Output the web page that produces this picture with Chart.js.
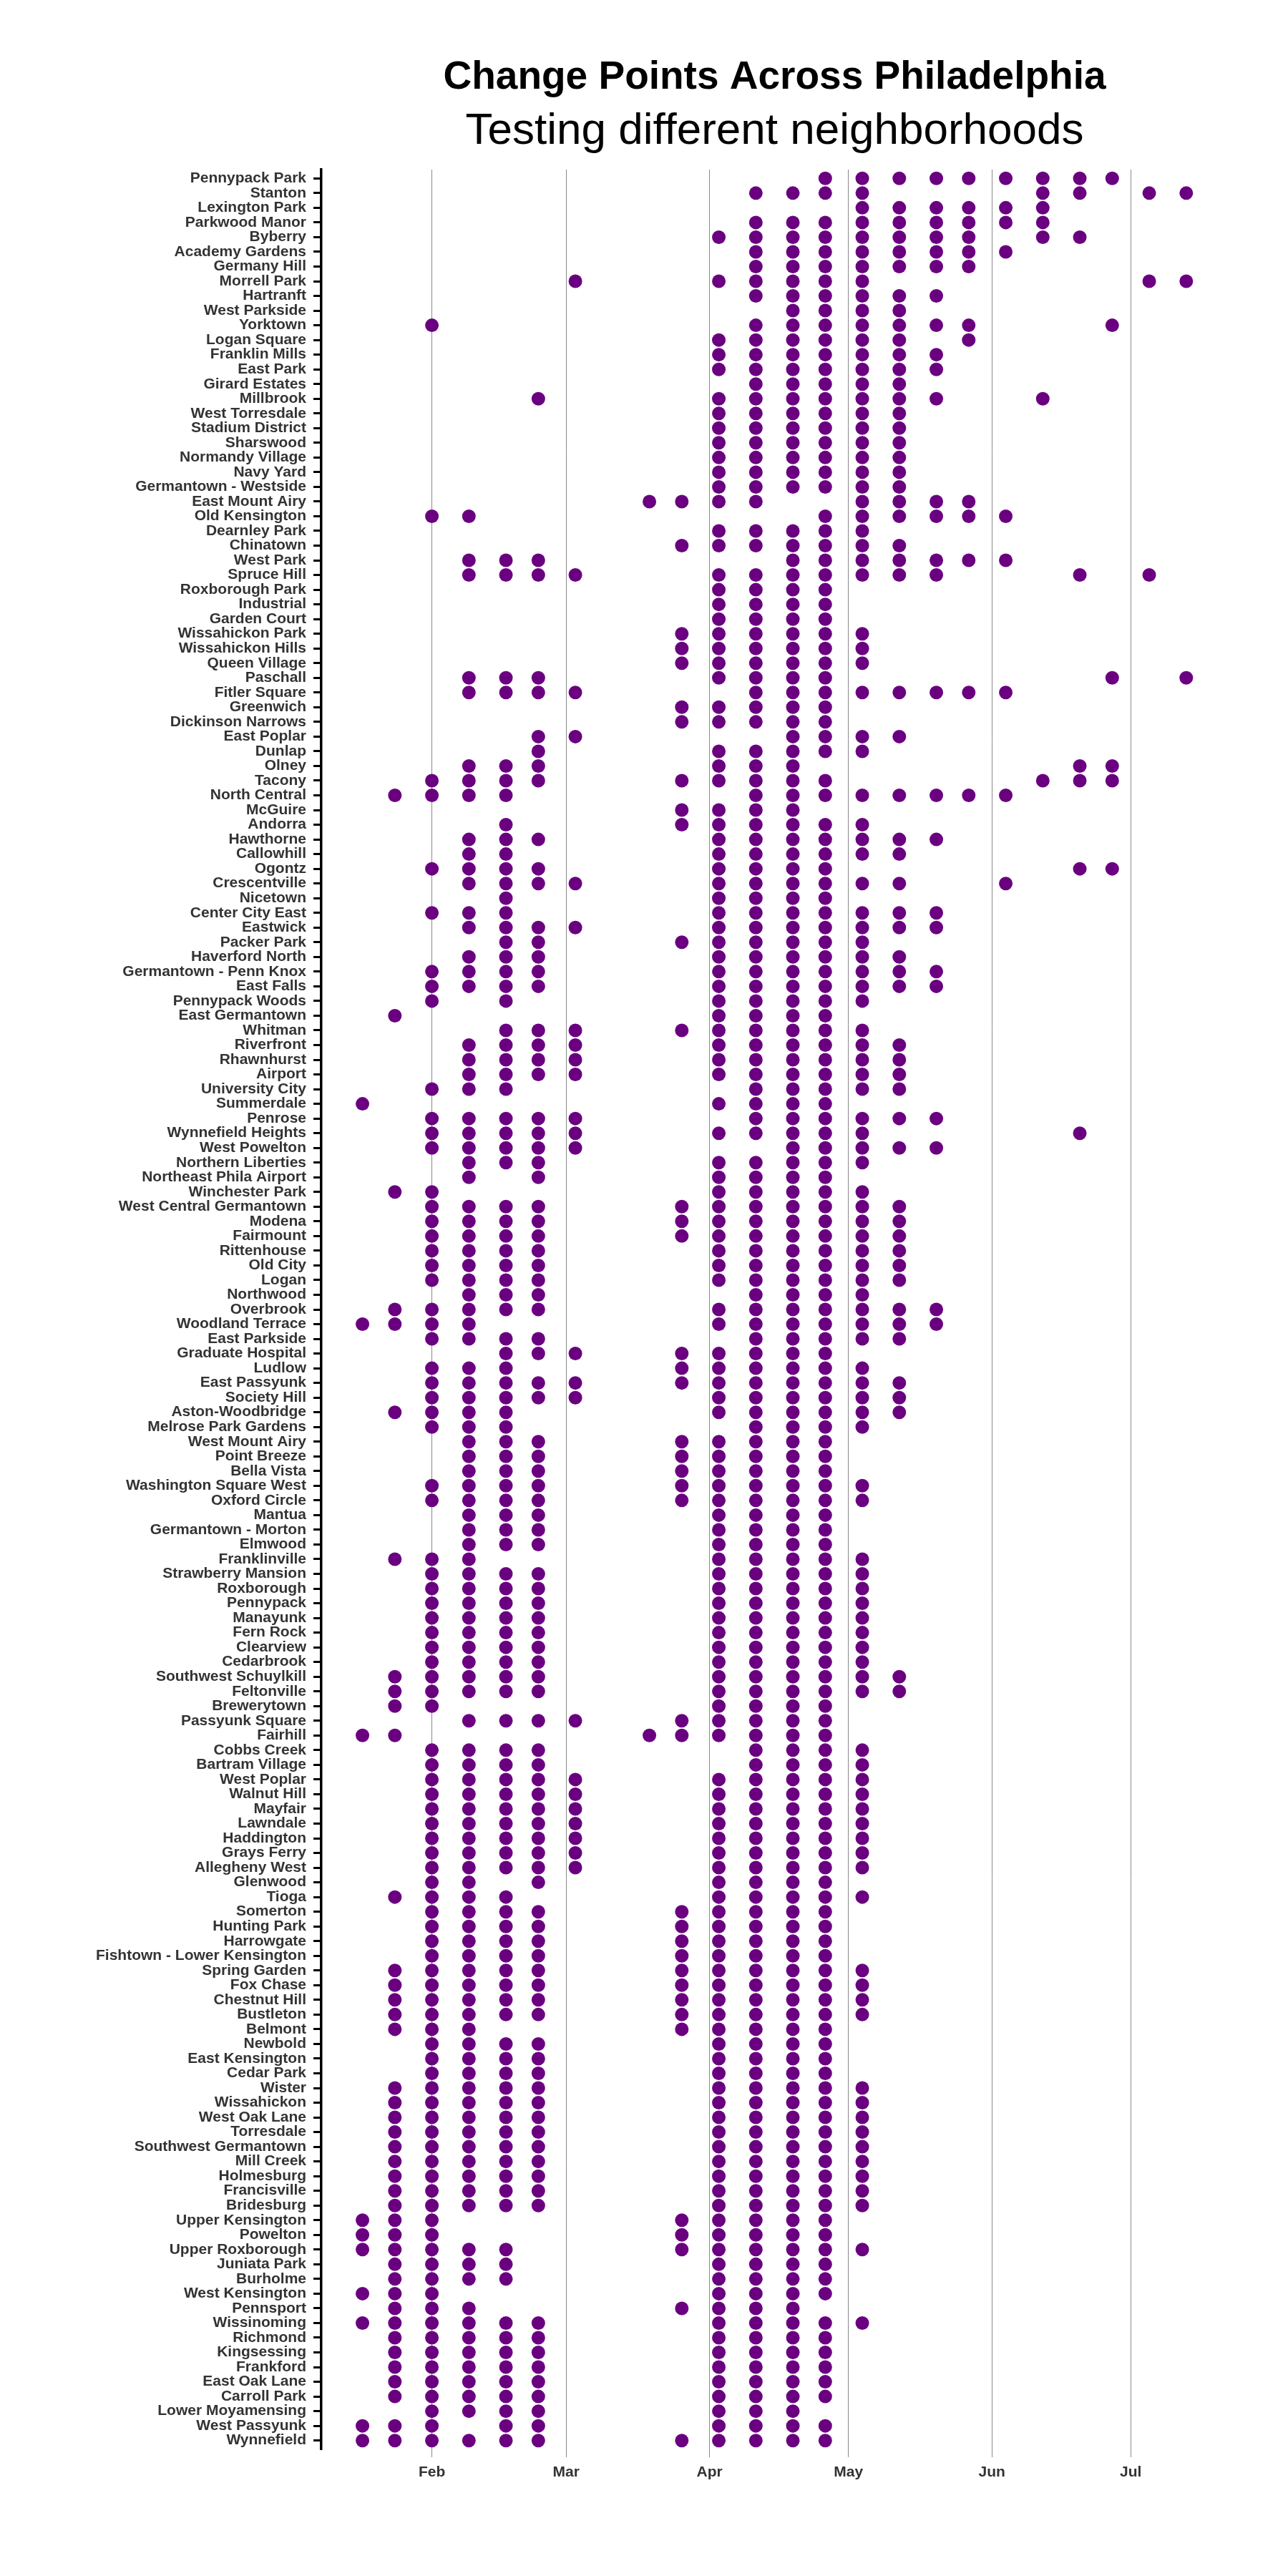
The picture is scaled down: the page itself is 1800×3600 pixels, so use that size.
<!DOCTYPE html>
<html>
<head>
<meta charset="utf-8">
<title>Change Points Across Philadelphia</title>
<script src="https://cdn.jsdelivr.net/npm/chart.js@4.4.1/dist/chart.umd.min.js"></script>
<style>
  html, body { margin: 0; padding: 0; background: #fff; }
  #wrap { width: 1800px; height: 3600px; }
</style>
</head>
<body>
<div id="wrap"><canvas id="changeChart" width="1800" height="3600"></canvas></div>
<script>
// neighborhoods, top to bottom
const NEIGHBORHOODS = [
  'Pennypack Park','Stanton','Lexington Park','Parkwood Manor','Byberry','Academy Gardens','Germany Hill',
  'Morrell Park','Hartranft','West Parkside','Yorktown','Logan Square','Franklin Mills','East Park',
  'Girard Estates','Millbrook','West Torresdale','Stadium District','Sharswood','Normandy Village','Navy Yard',
  'Germantown - Westside','East Mount Airy','Old Kensington','Dearnley Park','Chinatown','West Park','Spruce Hill',
  'Roxborough Park','Industrial','Garden Court','Wissahickon Park','Wissahickon Hills','Queen Village','Paschall',
  'Fitler Square','Greenwich','Dickinson Narrows','East Poplar','Dunlap','Olney','Tacony',
  'North Central','McGuire','Andorra','Hawthorne','Callowhill','Ogontz','Crescentville',
  'Nicetown','Center City East','Eastwick','Packer Park','Haverford North','Germantown - Penn Knox','East Falls',
  'Pennypack Woods','East Germantown','Whitman','Riverfront','Rhawnhurst','Airport','University City',
  'Summerdale','Penrose','Wynnefield Heights','West Powelton','Northern Liberties','Northeast Phila Airport','Winchester Park',
  'West Central Germantown','Modena','Fairmount','Rittenhouse','Old City','Logan','Northwood',
  'Overbrook','Woodland Terrace','East Parkside','Graduate Hospital','Ludlow','East Passyunk','Society Hill',
  'Aston-Woodbridge','Melrose Park Gardens','West Mount Airy','Point Breeze','Bella Vista','Washington Square West','Oxford Circle',
  'Mantua','Germantown - Morton','Elmwood','Franklinville','Strawberry Mansion','Roxborough','Pennypack',
  'Manayunk','Fern Rock','Clearview','Cedarbrook','Southwest Schuylkill','Feltonville','Brewerytown',
  'Passyunk Square','Fairhill','Cobbs Creek','Bartram Village','West Poplar','Walnut Hill','Mayfair',
  'Lawndale','Haddington','Grays Ferry','Allegheny West','Glenwood','Tioga','Somerton',
  'Hunting Park','Harrowgate','Fishtown - Lower Kensington','Spring Garden','Fox Chase','Chestnut Hill','Bustleton',
  'Belmont','Newbold','East Kensington','Cedar Park','Wister','Wissahickon','West Oak Lane',
  'Torresdale','Southwest Germantown','Mill Creek','Holmesburg','Francisville','Bridesburg','Upper Kensington',
  'Powelton','Upper Roxborough','Juniata Park','Burholme','West Kensington','Pennsport','Wissinoming',
  'Richmond','Kingsessing','Frankford','East Oak Lane','Carroll Park','Lower Moyamensing','West Passyunk',
  'Wynnefield'
];

// test dates as day of year (2020): Jan 17 ... Jul 13
const CHECK_DAYS = [17, 24, 32, 40, 48, 55, 63, 71, 79, 86, 94, 102, 110, 117, 125, 133, 141, 148, 156, 164, 172, 179, 187, 195];

// change points per neighborhood, as indexes into CHECK_DAYS ("a-b" = range)
const CHANGE_POINTS = [
  '13-21','11-14,19,20,22,23','14-19','11-19','10-17,19,20','11-18','11-17',
  '6,10-14,22,23','11-16','12-15','2,11-17,21','10-15,17','10-16','10-16',
  '11-15','5,10-16,19','10-15','10-15','10-15','10-15','10-15',
  '10-15','8-11,14-17','2,3,13-18','10-14','9-15','3-5,12-18','3-6,10-16,20,22',
  '10-13','10-13','10-13','9-14','9-14','9-14','3-5,10-13,21,23',
  '3-6,11-18','9-13','9-13','5,6,12-15','5,10-14','3-5,10-12,20,21','2-5,9-13,19-21',
  '1-4,11-18','9-12','4,9-14','3-5,10-16','3,4,10-15','2-5,10-13,20,21','3-6,10-15,18',
  '4,10-13','2-4,10-16','3-6,10-16','4,5,9-14','3-5,10-15','2-5,10-16','2-5,10-16',
  '2,4,10-14','1,10-13','4-6,9-14','3-6,10-15','3-6,10-15','3-6,10-15','2-4,11-15',
  '0,10-13','2-6,11-16','2-6,10-14,20','2-6,12-16','3-5,10-14','3,5,10-13','1,2,10-14',
  '2-5,9-15','2-5,9-15','2-5,9-15','2-5,10-15','2-5,10-15','2-5,10-15','3-5,11-14',
  '1-5,10-16','0-3,10-16','2-5,11-15','4-6,9-13','2-4,9-14','2-6,9-15','2-6,10-15',
  '1-4,10-15','2-4,11-14','3-5,9-13','3-5,9-13','3-5,9-13','2-5,9-14','2-5,9-14',
  '3-5,10-13','3-5,10-13','3-5,10-13','1-3,10-14','2-5,10-14','2-5,10-14','2-5,10-14',
  '2-5,10-14','2-5,10-14','2-5,10-14','2-5,10-14','1-5,10-15','1-5,10-15','1,2,10-13',
  '3-6,9-13','0,1,8-13','2-5,11-14','2-5,11-14','2-6,10-14','2-6,10-14','2-6,10-14',
  '2-6,10-14','2-6,10-14','2-6,10-14','2-6,10-14','2,3,5,10-13','1-4,10-14','2-5,9-13',
  '2-5,9-13','2-5,9-13','2-5,9-13','1-5,9-14','1-5,9-14','1-5,9-14','1-5,9-14',
  '1-3,9-13','2-5,10-13','2-5,10-13','2-5,10-13','1-5,10-14','1-5,10-14','1-5,10-14',
  '1-5,10-14','1-5,10-14','1-5,10-14','1-5,10-14','1-5,10-14','1-5,10-14','0-2,9-13',
  '0-2,9-13','0-4,9-14','1-4,10-13','1-4,10-13','0-2,10-13','1-3,9-12','0-5,10-14',
  '1-5,10-13','1-5,10-13','1-5,10-13','1-5,10-13','1-5,10-13','2-5,10-12','0-2,4,5,10-13',
  '0-5,9-13'
];

// month axis
const MONTH_DAYS = [32, 61, 92, 122, 153, 183];
const MONTH_LABELS = ['Feb', 'Mar', 'Apr', 'May', 'Jun', 'Jul'];

const FONT = '"Liberation Sans", Arial, Helvetica, sans-serif';

function expand(spec) {
  const out = [];
  spec.split(',').forEach(part => {
    const [a, b] = part.split('-').map(Number);
    const end = (b === undefined) ? a : b;
    for (let i = a; i <= end; i++) out.push(i);
  });
  return out;
}

function buildPoints() {
  const pts = [];
  NEIGHBORHOODS.forEach((name, row) => {
    expand(CHANGE_POINTS[row]).forEach(col => pts.push({ x: CHECK_DAYS[col], y: row }));
  });
  return pts;
}

document.addEventListener('DOMContentLoaded', () => {
  const canvas = document.getElementById('changeChart');

  new Chart(canvas.getContext('2d'), {
    type: 'scatter',
    data: {
      datasets: [{
        label: 'Change point',
        data: buildPoints(),
        pointRadius: 9.5,
        pointHoverRadius: 9.5,
        backgroundColor: '#6a0080',
        borderWidth: 0,
      }]
    },
    options: {
      responsive: false,
      animation: false,
      layout: { padding: { left: 0, right: 84, top: 0, bottom: 0 } },
      plugins: {
        legend: { display: false },
        tooltip: { enabled: false },
        title: {
          display: true, fullSize: false,
          text: 'Change Points Across Philadelphia',
          color: '#000',
          font: { family: FONT, size: 55, weight: 'bold', lineHeight: 1.2 },
          padding: { top: 76, bottom: 0 }
        },
        subtitle: {
          display: true, fullSize: false,
          text: 'Testing different neighborhoods',
          color: '#000',
          font: { family: FONT, size: 62, weight: 'normal', lineHeight: 1.2 },
          padding: { top: 5, bottom: 15.6 }
        }
      },
      scales: {
        x: {
          type: 'linear',
          min: 8.1, max: 204,
          afterBuildTicks: s => { s.ticks = MONTH_DAYS.map(v => ({ value: v })); },
          afterFit: s => { s.height = 177; },
          ticks: {
            autoSkip: false, maxRotation: 0, padding: 9,
            color: '#333', font: { family: FONT, size: 21, weight: 'bold' },
            callback: v => MONTH_LABELS[MONTH_DAYS.indexOf(v)]
          },
          grid: { color: '#8a8a8a', lineWidth: 1, drawTicks: true, tickLength: 11, tickColor: '#8a8a8a' },
          border: { display: false }
        },
        y: {
          type: 'linear',
          reverse: true,
          min: -0.6, max: NEIGHBORHOODS.length - 0.4,
          afterBuildTicks: s => { s.ticks = NEIGHBORHOODS.map((_, i) => ({ value: i })); },
          afterFit: s => { s.width = 449; },
          ticks: {
            autoSkip: false, padding: 10,
            color: '#333', font: { family: FONT, size: 21, weight: 'bold' },
            callback: v => NEIGHBORHOODS[v]
          },
          grid: { drawOnChartArea: false, drawTicks: true, tickLength: 11, tickWidth: 3, tickColor: '#000' },
          border: { display: true, color: '#000', width: 3.5 }
        }
      }
    }
  });
});
</script>
</body>
</html>
